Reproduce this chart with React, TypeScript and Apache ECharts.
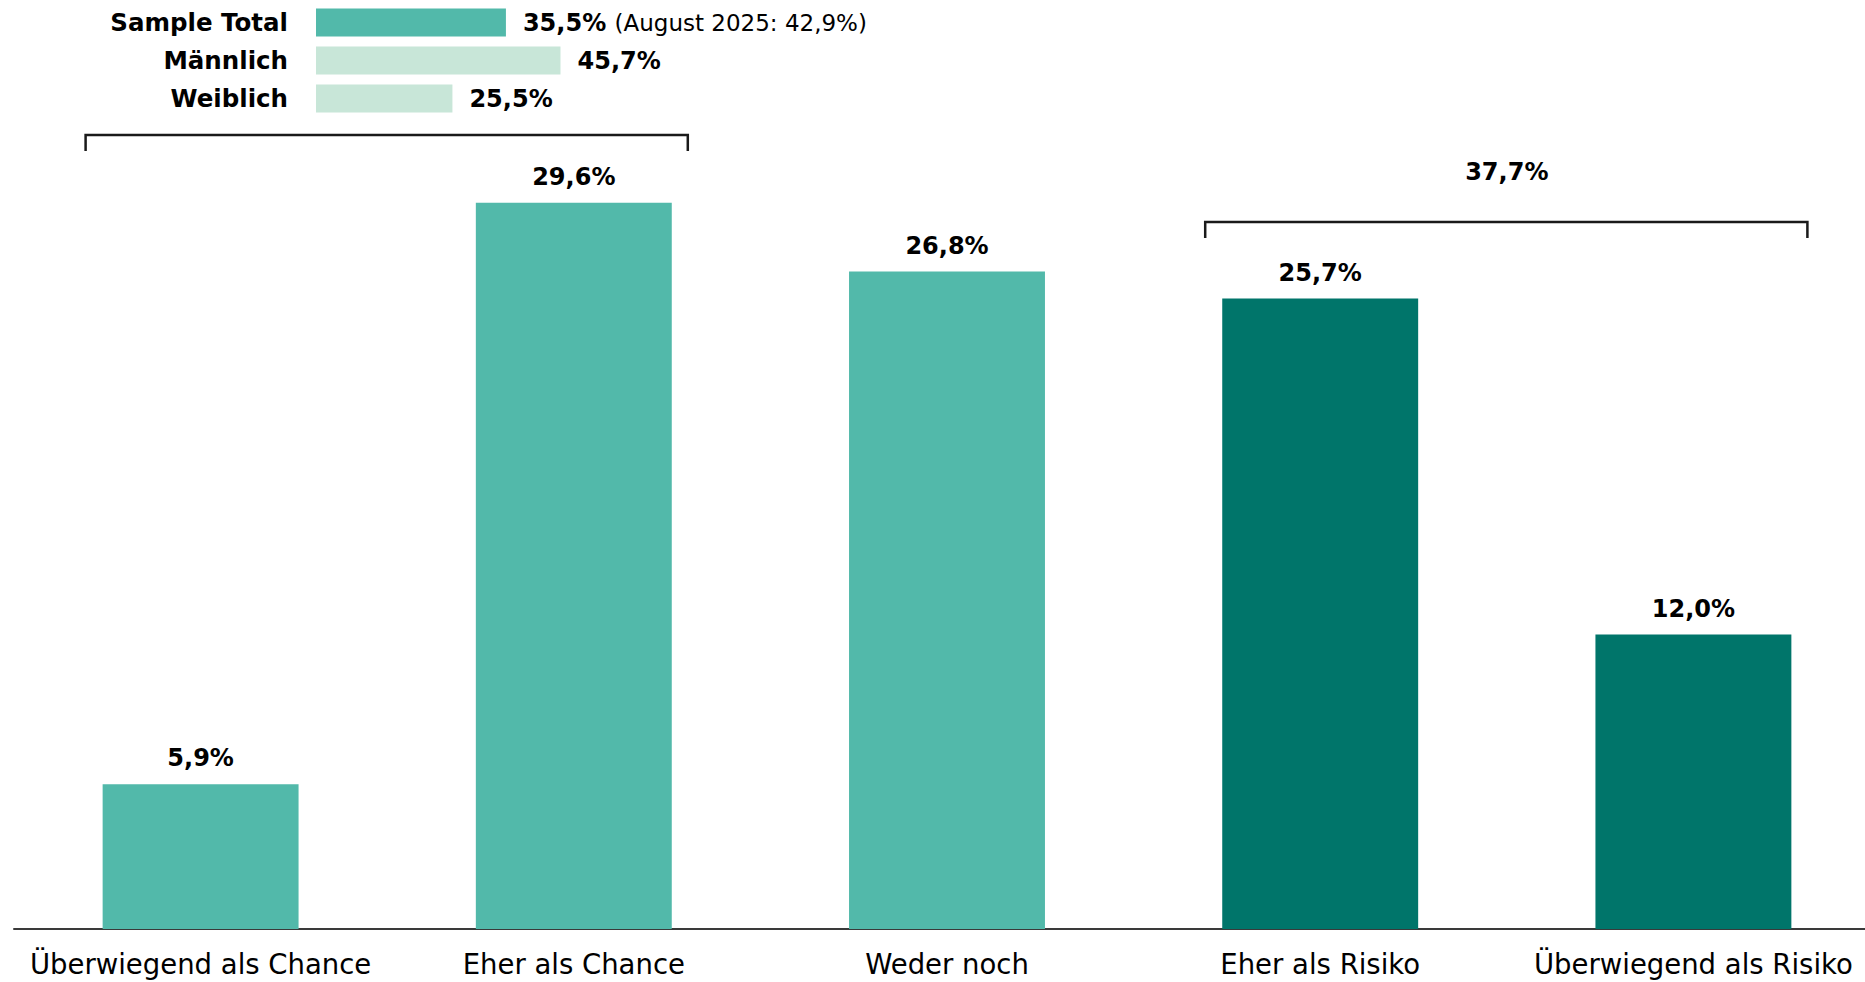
import React, { useEffect, useRef } from "react";
import * as echarts from "echarts";

const categories = [
  "Überwiegend als Chance",
  "Eher als Chance",
  "Weder noch",
  "Eher als Risiko",
  "Überwiegend als Risiko",
];
const values = [5.9, 29.6, 26.8, 25.7, 12.0];
const LIGHT = "#52B9AA";
const DARK = "#00756A";
const MINT = "#C8E6D8";
const barColors = [LIGHT, LIGHT, LIGHT, DARK, DARK];

const groupLabels = ["Sample Total", "Männlich", "Weiblich"];
const groupValues = [35.5, 45.7, 25.5];
const groupColors = [LIGHT, MINT, MINT];
const previousNote = "(August 2025: 42,9%)";

const riskShare = 37.7;
const chanceGroup = [0, 1];
const riskGroup = [3, 4];

const FONT = "'DejaVu Sans', 'Liberation Sans', Arial, sans-serif";
const fmt = (v: number) => v.toFixed(1).replace(".", ",") + "%";

export default function App() {
  const ref = useRef<HTMLDivElement>(null);
  useEffect(() => {
    if (!ref.current) return;
    const chart = echarts.init(ref.current, undefined, { renderer: "svg" });
    chart.setOption({
      animation: false,
      textStyle: { fontFamily: FONT },
      grid: [
        {
          left: 14,
          width: 1866,
          top: 70.4,
          bottom: 53,
          containLabel: false,
          outerBoundsMode: "none",
        },
        {
          left: 316,
          width: 535,
          top: 3.5,
          height: 114,
          containLabel: false,
          outerBoundsMode: "none",
        },
      ],
      xAxis: [
        {
          gridIndex: 0,
          type: "category",
          data: categories,
          axisTick: { show: false },
          axisLine: { show: true, lineStyle: { color: "#3a3a3a", width: 2 } },
          axisLabel: {
            color: "#000",
            fontSize: 27.5,
            fontFamily: FONT,
            margin: 21,
            interval: 0,
          },
        },
        {
          gridIndex: 1,
          type: "value",
          min: 0,
          max: 100,
          show: false,
        },
      ],
      yAxis: [
        {
          gridIndex: 0,
          type: "value",
          min: 0,
          max: 35,
          show: false,
        },
        {
          gridIndex: 1,
          type: "category",
          inverse: true,
          data: groupLabels,
          axisTick: { show: false },
          axisLine: { show: false },
          axisLabel: {
            color: "#000",
            fontSize: 24.5,
            fontWeight: "bold",
            fontFamily: FONT,
            margin: 28,
            align: "right",
          },
        },
      ],
      series: [
        {
          type: "bar",
          xAxisIndex: 0,
          yAxisIndex: 0,
          barCategoryGap: "47.5%",
          data: values.map((v, i) => ({
            value: v,
            itemStyle: { color: barColors[i] },
          })),
          label: {
            show: true,
            position: "top",
            distance: 14,
            color: "#000",
            fontSize: 24,
            fontWeight: "bold",
            fontFamily: FONT,
            formatter: (p: any) => fmt(p.value),
          },
        },
        {
          type: "bar",
          xAxisIndex: 1,
          yAxisIndex: 1,
          barCategoryGap: "26%",
          data: groupValues.map((v, i) => ({
            value: v,
            itemStyle: { color: groupColors[i] },
          })),
          label: {
            show: true,
            position: "right",
            distance: 17,
            color: "#000",
            fontSize: 24,
            fontWeight: "bold",
            fontFamily: FONT,
            formatter: (p: any) =>
              p.dataIndex === 0
                ? `{b|${fmt(p.value)}} {n|${previousNote}}`
                : `{b|${fmt(p.value)}}`,
            rich: {
              b: { fontSize: 24, fontWeight: "bold", color: "#000", fontFamily: FONT },
              n: { fontSize: 23, fontWeight: "normal", color: "#000", fontFamily: FONT },
            },
          },
        },
      ],
    });

    const cx = (i: number) =>
      chart.convertToPixel({ xAxisIndex: 0 }, categories[i]) as number;
    const bracket = (a: number, b: number, yTop: number) => {
      const x1 = cx(a) - 115;
      const x2 = cx(b) + 114;
      return {
        type: "polyline",
        shape: {
          points: [
            [x1, yTop + 16],
            [x1, yTop],
            [x2, yTop],
            [x2, yTop + 16],
          ],
        },
        style: { stroke: "#1a1a1a", lineWidth: 2.5, fill: "none" },
        silent: true,
      };
    };
    const rx = (cx(riskGroup[0]) + cx(riskGroup[1])) / 2;
    chart.setOption({
      graphic: [
        bracket(chanceGroup[0], chanceGroup[1], 135),
        bracket(riskGroup[0], riskGroup[1], 222),
        {
          type: "text",
          x: rx,
          y: 172,
          style: {
            text: fmt(riskShare),
            fill: "#000",
            font: `bold 24px ${FONT}`,
            textAlign: "center",
            textVerticalAlign: "middle",
          },
          silent: true,
        },
      ],
    });

    return () => chart.dispose();
  }, []);
  return (
    <div
      ref={ref}
      style={{ position: "fixed", left: 0, top: 0, width: 1865, height: 982, background: "#fff" }}
    />
  );
}
